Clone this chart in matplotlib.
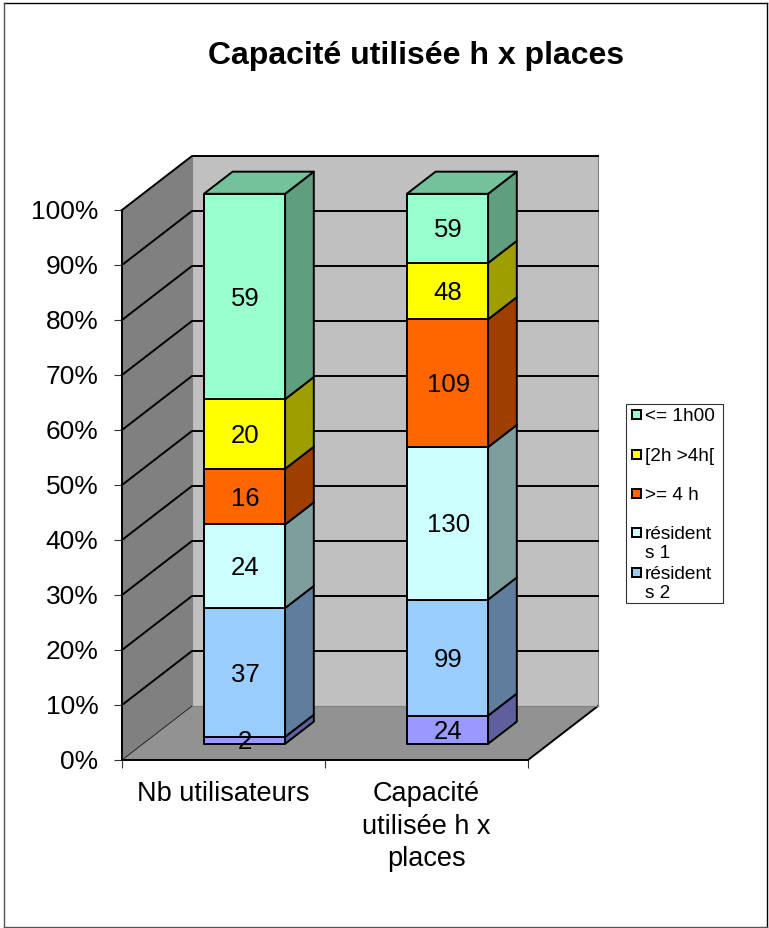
import matplotlib
matplotlib.use("Agg")
import matplotlib.pyplot as plt
from matplotlib.patches import Polygon, Rectangle
from matplotlib.colors import to_rgb
from matplotlib.transforms import ScaledTranslation

plt.rcParams['font.family'] = ['Liberation Sans', 'DejaVu Sans']

categories = ["Nb utilisateurs", "Capacité\nutilisée h x\nplaces"]
# stacked bottom to top
series_values = [
    [2, 24],
    [37, 99],
    [24, 130],
    [16, 109],
    [20, 48],
    [59, 59],
]
series_colors = ["#9999FF", "#99CCFF", "#CCFFFF", "#FF6600", "#FFFF00", "#99FFCC"]
legend_labels = ["<= 1h00", "[2h >4h[", ">= 4 h", "résident\ns 1", "résident\ns 2"]
legend_colors = ["#99FFCC", "#FFFF00", "#FF6600", "#CCFFFF", "#99CCFF"]
legend_y = [415, 455, 494, 533, 573]
pct_ticks = list(range(0, 101, 10))

W, H = 769, 929
fig = plt.figure(figsize=(W / 100, H / 100), dpi=100, facecolor="white")

# front plane of the 3d box: 122..528 px wide, 761..211 px high
ax = fig.add_axes([122 / W, 1 - 761 / H, 406 / W, 550 / H])
ax.set_xlim(0, 2)
ax.set_ylim(0, 100)
ax.patch.set_visible(False)

# depth of the box in data units
DX = 70 * 2 / 406
DY = 54 * 100 / 550
BAR_FRONT = 0.30
BAR_BACK = 0.71
BAR_W = 0.40
LW = 1.4


def shade(color, k):
    return tuple(c * k for c in to_rgb(color))


def poly(pts, fc, ec="black", lw=LW, z=1):
    ax.add_patch(Polygon(pts, closed=True, facecolor=fc, edgecolor=ec, linewidth=lw,
                         zorder=z, clip_on=False, joinstyle="round"))


# walls and floor
poly([(DX, DY), (2 + DX, DY), (2 + DX, 100 + DY), (DX, 100 + DY)], "#C0C0C0", ec="none", z=1)
poly([(0, 0), (DX, DY), (DX, 100 + DY), (0, 100)], "#808080", ec="none", z=1)
poly([(0, 0), (2, 0), (2 + DX, DY), (DX, DY)], "#929292", ec="none", z=1)

ax.plot([2, 2 + DX], [0, DY], color="black", lw=LW, zorder=2, clip_on=False)
ax.plot([0, DX], [0, DY], color="#222222", lw=0.7, zorder=2, clip_on=False)
ax.plot([2 + DX, 2 + DX], [DY, 100 + DY], color="#808080", lw=0.8, zorder=2, clip_on=False)
ax.plot([DX, DX], [DY, 100 + DY], color="#808080", lw=0.8, zorder=2, clip_on=False)
ax.plot([DX, 2 + DX], [DY, DY], color="#808080", lw=0.8, zorder=2, clip_on=False)

# gridlines on both walls
for v in pct_ticks[1:]:
    ax.plot([0, DX, 2 + DX], [v, v + DY, v + DY], color="black", lw=LW, zorder=2,
            clip_on=False, solid_joinstyle="miter")

# stacked 3d bars
totals = [sum(s[i] for s in series_values) for i in range(len(categories))]
for i, total in enumerate(totals):
    x0 = i + 0.5 - BAR_W / 2 + BAR_FRONT * DX
    x1 = x0 + BAR_W
    ox0 = BAR_FRONT * DY
    dxb = (BAR_BACK - BAR_FRONT) * DX
    dyb = (BAR_BACK - BAR_FRONT) * DY
    bottom = 0.0
    for vals, color in zip(series_values, series_colors):
        h = vals[i] / total * 100
        b = bottom + ox0
        t = b + h
        poly([(x1, b), (x1 + dxb, b + dyb), (x1 + dxb, t + dyb), (x1, t)], shade(color, 0.62), z=3)
        poly([(x0, b), (x1, b), (x1, t), (x0, t)], color, z=3)
        bottom += h
    top = bottom + ox0
    poly([(x0, top), (x1, top), (x1 + dxb, top + dyb), (x0 + dxb, top + dyb)],
         shade(series_colors[-1], 0.76), z=3)
    bottom = 0.0
    for vals in series_values:
        h = vals[i] / total * 100
        ax.text((x0 + x1) / 2 + 0.003, bottom + ox0 + h / 2 - 0.2, str(vals[i]), ha="center", va="center",
                fontsize=18.5, color="black", zorder=5)
        bottom += h

# axes
for side in ("top", "right"):
    ax.spines[side].set_visible(False)
for side in ("left", "bottom"):
    ax.spines[side].set_linewidth(LW)
    ax.spines[side].set_zorder(4)
ax.set_yticks(pct_ticks)
ax.set_yticklabels([f"{v}%" for v in pct_ticks], fontsize=19)
ax.tick_params(axis="y", length=6, width=0.8, pad=11, color="#333333")
# labels sit a pixel above their ticks in the reference
nudge = ScaledTranslation(0, 1.2 / 100, fig.dpi_scale_trans)
for lab in ax.get_yticklabels():
    lab.set_transform(lab.get_transform() + nudge)
ax.set_xticks([0, 1, 2])
ax.set_xticklabels([])
ax.tick_params(axis="x", which="major", length=6, width=0.8, color="#333333")
ax.set_xticks([0.5, 1.5], minor=True)
ax.set_xticklabels(categories, minor=True, fontsize=19.5, linespacing=1.33, va="top")
ax.tick_params(axis="x", which="minor", length=0, pad=14.5)

# overlay in pixel coordinates for frame, title and legend
over = fig.add_axes([0, 0, 1, 1], zorder=10)
over.set_xlim(0, W)
over.set_ylim(H, 0)
over.axis("off")
over.plot([4, 767], [4, 4], color="black", lw=1.0)
over.plot([767, 767], [4, 928], color="black", lw=1.0)
over.plot([4, 767], [928, 928], color="#555555", lw=1.0)
over.plot([4, 4], [4, 928], color="#555555", lw=1.0)
over.text(416, 56, "Capacité utilisée h x places", ha="center", va="center",
          fontsize=23, fontweight="bold")

over.add_patch(Rectangle((625.5, 405), 97, 199, facecolor="white", edgecolor="#333333", linewidth=0.8))
for label, color, y in zip(legend_labels, legend_colors, legend_y):
    over.add_patch(Rectangle((632, y - 4.5), 9, 9, facecolor=color, edgecolor="black", linewidth=1.4))
    over.text(645, y - 7, label, ha="left", va="top", fontsize=13.7, linespacing=1.15)

fig.savefig("out.png", dpi=100)
